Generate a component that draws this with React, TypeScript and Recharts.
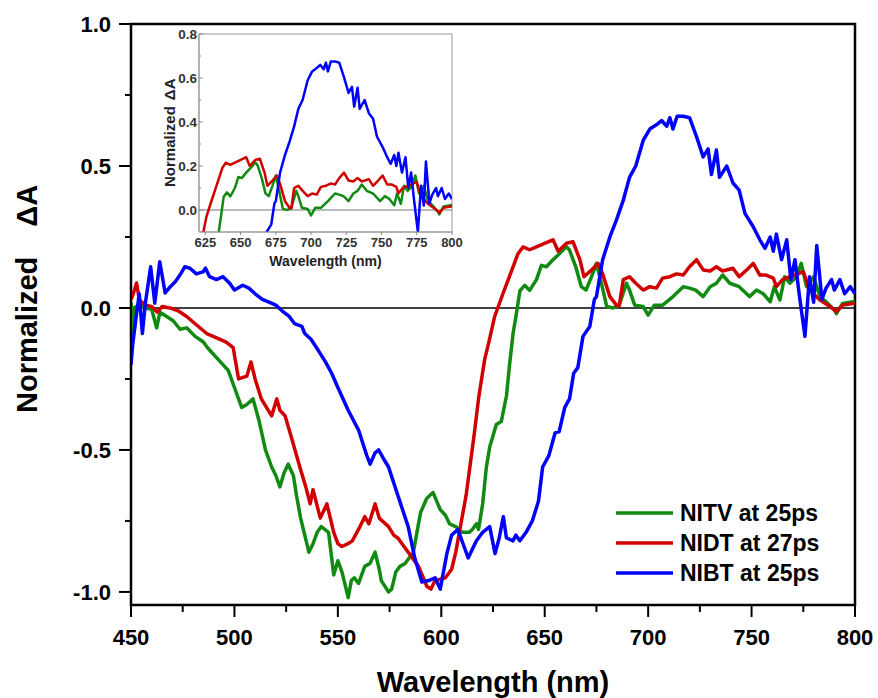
import React from 'react';
import { LineChart, Line, XAxis, YAxis, ReferenceLine, ReferenceArea, Legend, Label } from 'recharts';

const FONT = "'Liberation Sans', Arial, sans-serif";

// ---- Data ----
const nitvWavelength = [450, 451, 451.5, 453.5, 456.8, 460, 462.4, 464, 467.2, 470.4, 473.7, 476.9, 481, 485, 487, 492, 497, 500, 503.5, 506, 509, 512, 515, 518, 520, 522, 524, 526, 528.5, 530, 532, 534, 536, 538, 540, 542, 545.5, 548, 550, 552, 555, 556.5, 558, 560, 563, 565.5, 568, 570, 571, 574.5, 576, 578, 580, 582.5, 586.5, 590, 593, 596, 599.5, 602, 604, 607, 610, 613.6, 615, 617, 618, 620, 621.8, 623.4, 626.6, 629, 631.5, 633, 634.7, 636.3, 638, 640.3, 642.7, 646, 648.4, 650.8, 654, 657, 660.5, 662, 665, 667.7, 670, 672.6, 675, 677.4, 680, 683, 686, 689.5, 691, 693.5, 697.6, 700, 703, 707, 712, 717, 720, 723, 726.6, 730, 733, 736, 739.5, 744, 749, 752.4, 755.6, 759, 761, 763.7, 766, 768.5, 771.8, 774, 776.6, 780, 783, 786, 790, 791, 794, 799, 800];
const nitvValues = [0.02, -0.11, 0.0, 0.01, 0.0, -0.005, -0.07, -0.015, -0.03, -0.045, -0.075, -0.07, -0.1, -0.12, -0.14, -0.18, -0.22, -0.28, -0.35, -0.34, -0.32, -0.4, -0.5, -0.56, -0.59, -0.63, -0.58, -0.55, -0.59, -0.66, -0.74, -0.8, -0.86, -0.83, -0.79, -0.77, -0.79, -0.94, -0.89, -0.93, -1.02, -0.96, -0.95, -0.97, -0.91, -0.9, -0.86, -0.92, -0.96, -1.0, -0.99, -0.93, -0.91, -0.9, -0.86, -0.72, -0.67, -0.65, -0.71, -0.73, -0.76, -0.77, -0.79, -0.79, -0.78, -0.76, -0.78, -0.69, -0.56, -0.49, -0.41, -0.4, -0.31, -0.2, -0.09, -0.02, 0.06, 0.08, 0.062, 0.1, 0.15, 0.145, 0.17, 0.19, 0.216, 0.204, 0.145, 0.075, 0.063, 0.11, 0.157, 0.087, 0.005, 0.0, 0.01, 0.087, 0.063, 0.01, 0.005, -0.025, 0.01, 0.01, 0.04, 0.075, 0.07, 0.063, 0.04, 0.075, 0.087, 0.116, 0.087, 0.075, 0.04, 0.063, 0.05, 0.022, 0.075, 0.028, 0.11, 0.087, 0.11, 0.157, 0.075, 0.11, 0.04, 0.022, -0.007, -0.02, 0.016, 0.022, 0.025];

const nidtWavelength = [450, 451.1, 452.7, 454, 456.8, 460, 462.8, 465, 468.8, 472.8, 476.9, 481.7, 486.6, 491.4, 496, 499.4, 502, 506, 508, 510, 513, 518, 520.5, 522, 524.5, 527.7, 532, 534.5, 536.6, 538, 541.5, 544.7, 548, 550, 552, 555, 557, 560, 563, 565, 568, 570, 571.5, 574.5, 577, 579, 584, 589, 593, 595, 597, 602, 605, 607, 609.5, 612, 614, 616, 618, 621, 623, 625.8, 629.8, 634.7, 637, 639.5, 642.7, 646, 650.8, 654, 656.5, 660.5, 663.7, 667, 669, 672.6, 675.8, 678, 681.5, 684.7, 686, 688, 691, 694, 697.6, 700.8, 704, 707, 710.5, 713.7, 717, 720, 723.4, 726.6, 730, 733, 736, 741, 744, 747.6, 750.8, 754, 757, 760.5, 762, 765, 768.5, 773, 775, 778, 783, 788, 791, 794, 799, 800];
const nidtValues = [0.03, 0.05, 0.088, 0.03, 0.01, 0.005, -0.015, 0.005, 0.0, -0.01, -0.03, -0.06, -0.09, -0.105, -0.12, -0.14, -0.25, -0.24, -0.19, -0.25, -0.32, -0.38, -0.32, -0.36, -0.38, -0.46, -0.57, -0.63, -0.69, -0.64, -0.74, -0.69, -0.79, -0.83, -0.84, -0.83, -0.82, -0.78, -0.735, -0.76, -0.69, -0.74, -0.75, -0.77, -0.8, -0.81, -0.86, -0.91, -0.98, -0.99, -0.96, -0.95, -0.92, -0.86, -0.76, -0.66, -0.55, -0.44, -0.32, -0.18, -0.12, -0.03, 0.05, 0.145, 0.19, 0.215, 0.205, 0.215, 0.23, 0.24, 0.2, 0.228, 0.233, 0.17, 0.11, 0.134, 0.157, 0.12, 0.04, 0.01, 0.007, 0.1, 0.11, 0.087, 0.063, 0.075, 0.07, 0.105, 0.11, 0.12, 0.116, 0.145, 0.17, 0.134, 0.13, 0.145, 0.13, 0.14, 0.11, 0.134, 0.157, 0.116, 0.116, 0.105, 0.075, 0.1, 0.11, 0.122, 0.128, 0.063, 0.028, 0.005, -0.013, 0.01, 0.016, 0.016];

const nibtWavelength = [450, 450.8, 452.5, 454, 455.5, 457, 459.5, 461.5, 463.9, 466.5, 469, 471.5, 474, 476, 478.5, 481.6, 484.8, 486, 488, 491.3, 494.5, 497.7, 500, 504, 507, 510, 513.5, 517, 520, 523, 526.5, 529, 532.6, 534, 537, 540.6, 544, 547, 550, 555, 560, 564, 565.6, 568, 569.7, 572, 574.5, 579, 584, 587, 590.6, 594, 597, 599.5, 602.7, 605, 608, 611, 613, 617, 620, 623.4, 626, 628, 630, 631.5, 634.7, 636, 638, 641, 644, 647, 649, 652, 655, 657, 659.7, 662, 664, 666, 668.5, 671.8, 674, 675, 678, 681.5, 684.7, 688, 691, 694, 697.6, 700.8, 704, 706.5, 709, 710.5, 712, 714, 717, 720, 723.4, 726.6, 729, 730.6, 733, 734.5, 738, 741, 744, 746.8, 750.8, 754, 756.5, 759, 760.5, 762, 764.5, 767, 769, 771, 773, 775.8, 778, 780, 781.5, 784, 786, 788.7, 790, 792.7, 795, 797.7, 800];
const nibtValues = [-0.2, -0.13, -0.03, 0.05, -0.09, 0.02, 0.145, 0.017, 0.163, 0.053, 0.075, 0.093, 0.12, 0.145, 0.14, 0.12, 0.127, 0.14, 0.11, 0.1, 0.11, 0.087, 0.063, 0.08, 0.07, 0.05, 0.03, 0.02, 0.01, -0.01, -0.03, -0.055, -0.065, -0.09, -0.11, -0.15, -0.19, -0.23, -0.28, -0.36, -0.43, -0.52, -0.55, -0.51, -0.5, -0.53, -0.56, -0.66, -0.77, -0.875, -0.965, -0.96, -0.95, -0.99, -0.865, -0.8, -0.78, -0.84, -0.88, -0.82, -0.79, -0.77, -0.865, -0.81, -0.735, -0.81, -0.82, -0.8, -0.82, -0.79, -0.75, -0.68, -0.56, -0.52, -0.44, -0.435, -0.35, -0.32, -0.23, -0.21, -0.1, -0.065, 0.03, 0.04, 0.17, 0.25, 0.31, 0.38, 0.46, 0.5, 0.59, 0.63, 0.645, 0.66, 0.64, 0.67, 0.63, 0.675, 0.675, 0.67, 0.603, 0.532, 0.56, 0.47, 0.556, 0.46, 0.5, 0.44, 0.415, 0.333, 0.286, 0.24, 0.21, 0.25, 0.2, 0.26, 0.17, 0.24, 0.1, 0.17, 0.05, -0.1, 0.11, 0.02, 0.22, 0.03, 0.07, 0.1, 0.063, 0.1, 0.05, 0.075, 0.05];

const seriesNames = ['NITV at 25ps', 'NIDT at 27ps', 'NIBT at 25ps'];
const seriesColors = ['#118a11', '#d10000', '#0000ff'];

const mainXTicks = [450, 475, 500, 525, 550, 575, 600, 625, 650, 675, 700, 725, 750, 775, 800];
const mainYTicks = [-1, -0.75, -0.5, -0.25, 0, 0.25, 0.5, 0.75, 1];
const insetXTicks = [625, 650, 675, 700, 725, 750, 775, 800];
const insetYTicks = [0, 0.1, 0.2, 0.3, 0.4, 0.5, 0.6, 0.7, 0.8];

const toPoints = (xs: number[], ys: number[]) => xs.map((x, i) => ({ x, y: ys[i] }));
const seriesData = [
  toPoints(nitvWavelength, nitvValues),
  toPoints(nidtWavelength, nidtValues),
  toPoints(nibtWavelength, nibtValues),
];

// ---- Tick renderers ----
const MainXTick = (props: any) => {
  const { x, y, payload } = props;
  const v = payload.value;
  const major = v % 50 === 0;
  return (
    <g>
      <line x1={x} x2={x} y1={y} y2={y + (major ? 12 : 7)} stroke="#000" strokeWidth={2} />
      {major && (
        <text x={x} y={y + 40} textAnchor="middle" fontFamily={FONT} fontWeight="bold" fontSize={22} fill="#000">
          {v}
        </text>
      )}
    </g>
  );
};

const MainYTick = (props: any) => {
  const { x, y, payload } = props;
  const v = payload.value;
  const major = Math.abs(v * 2 - Math.round(v * 2)) < 1e-6;
  return (
    <g>
      <line x1={x} x2={x - (major ? 12 : 6)} y1={y} y2={y} stroke="#000" strokeWidth={2} />
      {major && (
        <text x={x - 20} y={y + 8} textAnchor="end" fontFamily={FONT} fontWeight="bold" fontSize={22} fill="#000">
          {v.toFixed(1)}
        </text>
      )}
    </g>
  );
};

const InsetXTick = (props: any) => {
  const { x, y, payload } = props;
  return (
    <g>
      <line x1={x} x2={x} y1={y} y2={y + 3} stroke="#888" strokeWidth={1} />
      <text x={x} y={y + 15} textAnchor="middle" fontFamily={FONT} fontWeight="bold" fontSize={13} fill="#333">
        {payload.value}
      </text>
    </g>
  );
};

const InsetYTick = (props: any) => {
  const { x, y, payload } = props;
  const v = payload.value;
  const major = Math.abs(v * 5 - Math.round(v * 5)) < 1e-6;
  return (
    <g>
      <line x1={x} x2={x + (major ? 4 : 2)} y1={y} y2={y} stroke="#888" strokeWidth={1} />
      {major && (
        <text x={x - 2} y={y + 5} textAnchor="end" fontFamily={FONT} fontWeight="bold" fontSize={13.5} fill="#333">
          {v.toFixed(1)}
        </text>
      )}
    </g>
  );
};

// ---- Titles ----
const MainXTitle = (props: any) => {
  const vb = props.viewBox;
  return (
    <text x={vb.x + vb.width / 2} y={vb.y + 87} textAnchor="middle" fontFamily={FONT} fontWeight="bold" fontSize={29} fill="#000">
      Wavelength (nm)
    </text>
  );
};

const MainYTitle = () => {
  return (
    <text transform="translate(37,413) rotate(-90)" textAnchor="start" fontFamily={FONT} fontWeight="bold" fontSize={29} fill="#000">
      Normalized
      <tspan dx={30}>ΔA</tspan>
    </text>
  );
};

const InsetXTitle = (props: any) => {
  const vb = props.viewBox;
  return (
    <text x={vb.x + vb.width / 2} y={vb.y + 34} textAnchor="middle" fontFamily={FONT} fontWeight="bold" fontSize={14} fill="#222">
      Wavelength (nm)
    </text>
  );
};

const InsetYTitle = () => {
  return (
    <text transform="translate(25,162) rotate(-90)" textAnchor="start" fontFamily={FONT} fontWeight="bold" fontSize={15} fill="#222">
      Normalized
      <tspan dx={6}>ΔA</tspan>
    </text>
  );
};

const LegendContent = () => {
  return (
    <div style={{ display: 'flex', flexDirection: 'column' }}>
      {seriesNames.map((name, i) => (
        <div key={name} style={{ display: 'flex', alignItems: 'center', height: 30 }}>
          <svg width={57} height={6} style={{ marginRight: 7 }}>
            <line x1={0} x2={57} y1={3} y2={3} stroke={seriesColors[i]} strokeWidth={3.5} />
          </svg>
          <span style={{ fontFamily: FONT, fontWeight: 'bold', fontSize: 23, color: '#000', lineHeight: '30px', whiteSpace: 'nowrap' }}>
            {name}
          </span>
        </div>
      ))}
    </div>
  );
};

export default function App() {
  return (
    <div style={{ position: 'absolute', left: 0, top: 0, width: 878, height: 698, background: '#fff' }}>
      <div style={{ position: 'absolute', left: 0, top: 0 }}>
        <LineChart width={878} height={698} margin={{ top: 24, right: 23, bottom: 0, left: 0 }}>
          <ReferenceArea x1={450} x2={800} y1={-1.046} y2={1} fill="none" stroke="#000" strokeWidth={2.5} ifOverflow="visible" />
          <ReferenceLine y={0} stroke="#000" strokeWidth={1.5} />
          <XAxis
            type="number"
            dataKey="x"
            domain={[450, 800]}
            ticks={mainXTicks}
            interval={0}
            allowDataOverflow
            height={93}
            tickSize={0}
            tickMargin={0}
            tickLine={false}
            axisLine={{ stroke: '#000', strokeWidth: 2 }}
            tick={<MainXTick />}
          >
            <Label content={MainXTitle} />
          </XAxis>
          <YAxis
            type="number"
            dataKey="y"
            domain={[-1.046, 1]}
            ticks={mainYTicks}
            interval={0}
            allowDataOverflow
            width={131}
            tickSize={0}
            tickMargin={0}
            tickLine={false}
            axisLine={{ stroke: '#000', strokeWidth: 2 }}
            tick={<MainYTick />}
          >
            <Label content={MainYTitle} />
          </YAxis>
          {seriesData.map((d, i) => (
            <Line
              key={seriesNames[i]}
              data={d}
              dataKey="y"
              name={seriesNames[i]}
              type="linear"
              stroke={seriesColors[i]}
              strokeWidth={3.5}
              strokeLinejoin="round"
              dot={false}
              activeDot={false}
              isAnimationActive={false}
            />
          ))}
          <Legend
            layout="vertical"
            align="center"
            verticalAlign="middle"
            wrapperStyle={{ left: 616, top: 498, width: 250 }}
            content={LegendContent}
          />
        </LineChart>
      </div>
      <div style={{ position: 'absolute', left: 150, top: 25 }}>
        <LineChart width={330} height={252} margin={{ top: 9, right: 28, bottom: 0, left: 0 }}>
          <ReferenceArea x1={620.5} x2={800} y1={-0.1} y2={0.8} fill="none" stroke="#999" strokeWidth={1} ifOverflow="visible" />
          <ReferenceLine y={0} stroke="#777" strokeWidth={1} />
          <XAxis
            type="number"
            dataKey="x"
            domain={[620.5, 800]}
            ticks={insetXTicks}
            interval={0}
            allowDataOverflow
            height={45}
            tickSize={0}
            tickMargin={0}
            tickLine={false}
            axisLine={{ stroke: '#999', strokeWidth: 1 }}
            tick={<InsetXTick />}
          >
            <Label content={InsetXTitle} />
          </XAxis>
          <YAxis
            type="number"
            dataKey="y"
            domain={[-0.1, 0.8]}
            ticks={insetYTicks}
            interval={0}
            allowDataOverflow
            width={49}
            tickSize={0}
            tickMargin={0}
            tickLine={false}
            axisLine={{ stroke: '#999', strokeWidth: 1 }}
            tick={<InsetYTick />}
          >
            <Label content={InsetYTitle} />
          </YAxis>
          {seriesData.map((d, i) => (
            <Line
              key={seriesNames[i]}
              data={d}
              dataKey="y"
              name={seriesNames[i]}
              type="linear"
              stroke={seriesColors[i]}
              strokeWidth={2.5}
              strokeLinejoin="round"
              dot={false}
              activeDot={false}
              isAnimationActive={false}
            />
          ))}
        </LineChart>
      </div>
    </div>
  );
}
